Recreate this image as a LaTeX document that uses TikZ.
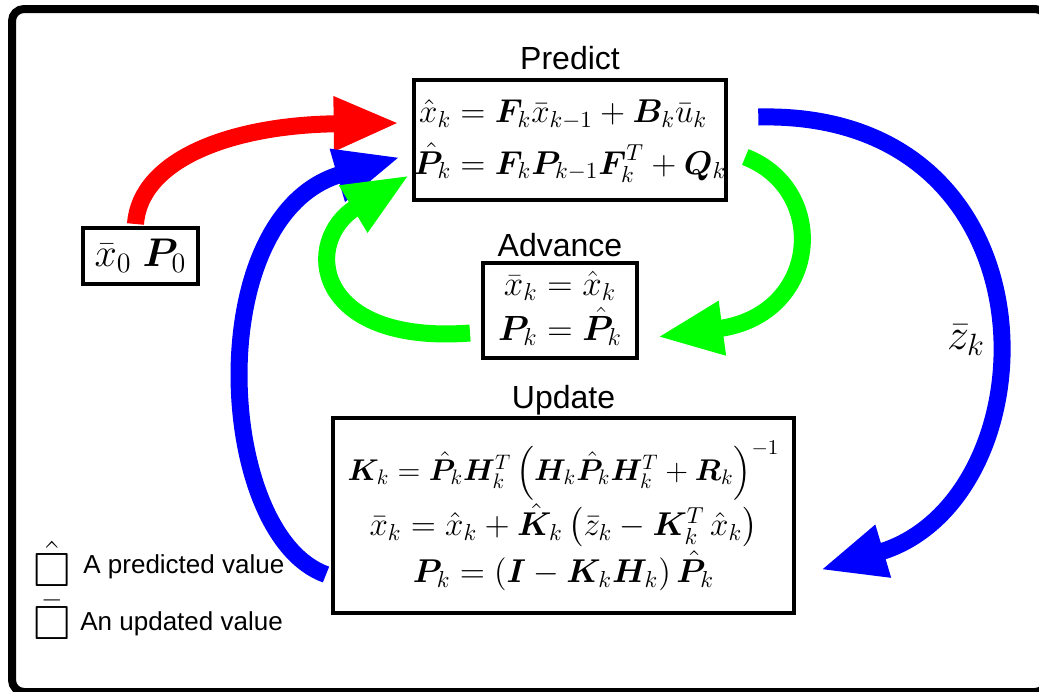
\documentclass[tikz,border=0pt]{standalone}
\usepackage{fix-cm}
\usepackage{amsmath,amssymb,bm}
\usepackage{fontspec}
\setsansfont{Liberation Sans}
\usetikzlibrary{arrows.meta, positioning, calc}

\begin{document}
\begin{tikzpicture}[x=0.5pt, y=-0.5pt,
    box/.style={draw, line width=2pt, inner sep=0pt},
    lbl/.style={font=\sffamily\fontsize{16}{19}\selectfont, inner sep=0pt},
    legend/.style={font=\sffamily\fontsize{13}{15}\selectfont, anchor=west, inner sep=0pt},
    flow/.style={line width=8.5pt, -{Triangle[length=33pt, width=25pt]}}]
    \useasboundingbox (0,0) rectangle (1039,691);
    \draw[line width=4pt, rounded corners=6pt] (12,9) rectangle (1047,692);

    % the three steps
    \node[box, minimum width=155.5pt, minimum height=60pt, font=\fontsize{16.5}{20.5}\selectfont] (predict) at (570,140)
        {$\begin{aligned}\hat{x}_k &= \bm{F}_k\bar{x}_{k-1} + \bm{B}_k\bar{u}_k\\
          \hat{\bm{P}}_k &= \bm{F}_k\bm{P}_{k-1}\bm{F}_k^T + \bm{Q}_k\end{aligned}$};
    \node[lbl, above=4pt of predict] (predictlbl) {Predict};

    \node[box, minimum width=77pt, minimum height=47.5pt, font=\fontsize{17.5}{14}\selectfont] (advance) at (560,310)
        {$\begin{aligned}\bar{x}_k &= \hat{x}_k\\[-2.5pt] \bm{P}_k &= \hat{\bm{P}}_k\end{aligned}$};
    \node[lbl, above=1.5pt of advance] (advancelbl) {Advance};

    \node[box, minimum width=230.5pt, minimum height=97.5pt, align=center] (update) at (563.5,515.5)
        {\fontsize{15}{27}\selectfont$\bm{K}_k = \hat{\bm{P}}_k\bm{H}_k^T\left(\bm{H}_k\hat{\bm{P}}_k\bm{H}_k^T + \bm{R}_k\right)^{-1}$\\[1pt]
         \fontsize{16.5}{28}\selectfont$\bar{x}_k = \hat{x}_k + \hat{\bm{K}}_k\left(\bar{z}_k - \bm{K}_k^T\,\hat{x}_k\right)$\\[1pt]
         \fontsize{16.5}{27}\selectfont$\bm{P}_k = \left(\bm{I} - \bm{K}_k\bm{H}_k\right)\hat{\bm{P}}_k$};
    \node[lbl, above=0pt of update] (updatelbl) {Update};

    \node[box, minimum width=57.5pt, minimum height=28pt, font=\fontsize{20}{24}\selectfont] (init) at (140.5,256)
        {$\bar{x}_0\;\bm{P}_0$};
    \node[font=\fontsize{22}{26}\selectfont] (zk) at (966,340) {$\bar{z}_k$};

    % legend
    \node[font=\fontsize{24}{26}\selectfont, inner sep=0pt] (hatsym) at (52,564) {$\hat{\square}$};
    \node[legend] (hattxt) at (83,567) {A predicted value};
    \node[font=\fontsize{24}{26}\selectfont, inner sep=0pt] (barsym) at (52,620) {$\bar{\square}$};
    \node[legend] (bartxt) at (80,624) {An updated value};

    % loops
    \draw[flow, red] ($(init.north)+(-5,-2)$) .. controls (140,160) and (230,125) .. ($(predict.west)+(-12,-17)$);
    \draw[flow, blue] ($(update.west)+(-5,59)$) .. controls (215,535) and (200,215) .. ($(predict.west)+(-11,17)$);
    \draw[flow, green] ($(advance.west)+(-11,23)$) .. controls (312,345) and (302,240) .. ($(predict.south west)+(-2,-27)$);
    \draw[flow, green] ($(predict.east)+(17,17)$) .. controls (830,190) and (820,315) .. ($(advance.east)+(18,27)$);
    \draw[flow, blue] ($(predict.east)+(30,-23)$) .. controls (1065,110) and (1055,500) .. ($(update.east)+(24,54.5)$);
\end{tikzpicture}
\end{document}
